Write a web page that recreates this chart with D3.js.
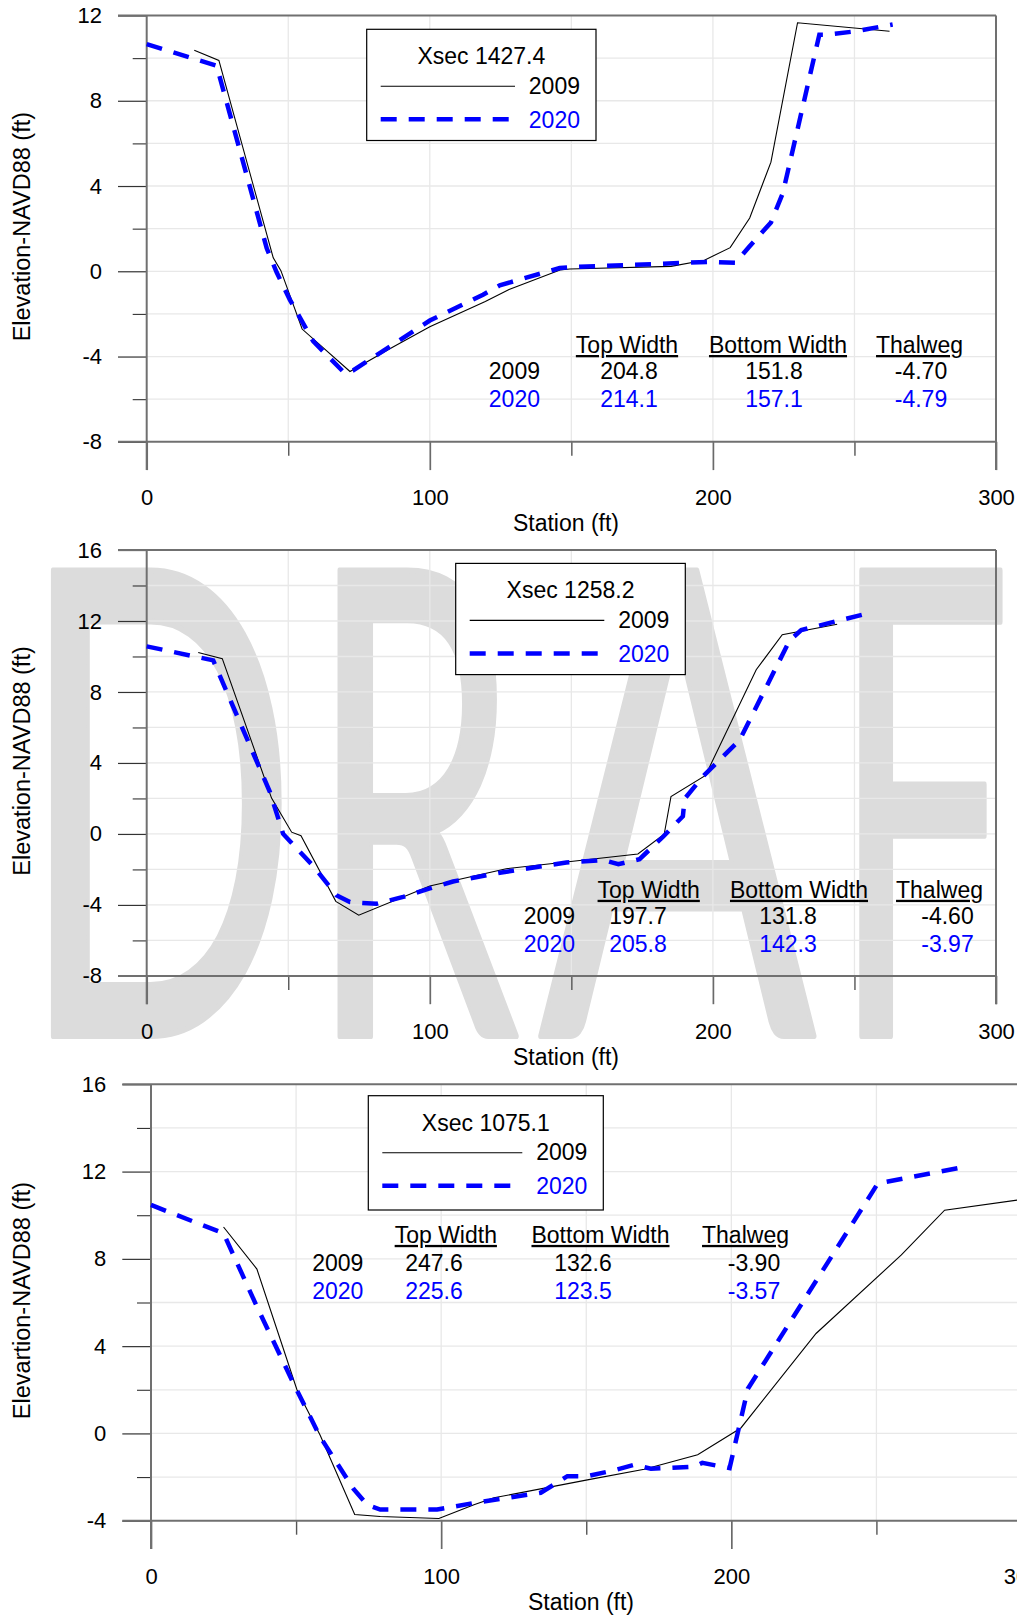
<!DOCTYPE html>
<html>
<head>
<meta charset="utf-8">
<script src="https://cdn.jsdelivr.net/npm/d3@7"></script>
<style>
  body { margin: 0; background: #fff; }
  text { font-family: "Liberation Sans", Arial, sans-serif; }
</style>
</head>
<body>
<svg id="chart" width="1017" height="1620"></svg>
<script>
// ---- data ----
const xsecNames = ["Xsec 1427.4", "Xsec 1258.2", "Xsec 1075.1"];
const yTitles = ["Elevation-NAVD88 (ft)", "Elevation-NAVD88 (ft)", "Elevartion-NAVD88 (ft)"];
const xTitle = "Station (ft)";
const years = ["2009", "2020"];
const statHeaders = ["Top Width", "Bottom Width", "Thalweg"];

const stationDomain = [0, 300];
const stationTicks = [0, 100, 200, 300];
const stationMinor = [50, 150, 250];

const elevDomain1427 = [-8, 12];
const elevTicks1427 = [-8, -4, 0, 4, 8, 12];
const elevDomain1258 = [-8, 16];
const elevTicks1258 = [-8, -4, 0, 4, 8, 12, 16];
const elevDomain1075 = [-4, 16];
const elevTicks1075 = [-4, 0, 4, 8, 12, 16];

// Xsec 1427.4
const sta2009_1427 = [16.8, 25.5, 44.7, 47.4, 54.9, 71.8, 87, 100, 119.6, 128, 146, 149.4, 185.2, 197, 206.1, 213, 220.5, 229.9, 262.4];
const elev2009_1427 = [10.37, 9.89, 0.63, 0.03, -2.71, -4.70, -3.55, -2.6, -1.42, -0.85, 0.06, 0.11, 0.23, 0.52, 1.11, 2.5, 5.12, 11.66, 11.26];
const sta2020_1427 = [0, 24.7, 42.4, 45.9, 50.6, 58.8, 70, 72.9, 87, 100, 118.8, 124.7, 145.9, 149.4, 198.8, 208, 212.9, 220.5, 224.7, 237.6, 240, 250.6, 263.5];
const elev2020_1427 = [10.66, 9.64, 1.08, -0.05, -1.34, -3.28, -4.79, -4.65, -3.44, -2.31, -1.10, -0.66, 0.15, 0.19, 0.44, 0.40, 1.16, 2.29, 3.67, 11.1, 11.1, 11.26, 11.58];
const stats2009_1427 = ["204.8", "151.8", "-4.70"];
const stats2020_1427 = ["214.1", "157.1", "-4.79"];

// Xsec 1258.2
const sta2009_1258 = [18.2, 26.7, 44.1, 51.2, 54.5, 66.8, 74.9, 100, 127, 173.5, 182.8, 185.2, 197.4, 215.3, 224.5, 243.9];
const elev2009_1258 = [10.22, 9.88, 2.02, 0.10, -0.10, -3.80, -4.58, -2.93, -1.96, -1.13, -0.02, 2.11, 3.30, 9.25, 11.23, 11.82];
const sta2020_1258 = [0, 23.5, 43.5, 48.2, 58.8, 67, 71.8, 81.2, 90.6, 100, 108.2, 124.7, 148.2, 161.2, 166.6, 174.1, 182.4, 189.4, 190, 196.5, 209.4, 227.1, 231.2, 253];
const elev2020_1258 = [10.57, 9.78, 2.37, 0.0, -1.80, -3.45, -3.84, -3.94, -3.55, -3.07, -2.68, -2.19, -1.61, -1.47, -1.71, -1.42, -0.16, 1.0, 1.98, 3.24, 5.28, 10.9, 11.49, 12.36];
const stats2009_1258 = ["197.7", "131.8", "-4.60"];
const stats2020_1258 = ["205.8", "142.3", "-3.97"];

// Xsec 1075.1
const sta2009_1075 = [25, 36.5, 50.3, 58.3, 70.2, 79, 99.2, 111.3, 118.2, 150.4, 170, 188.4, 203.3, 229.2, 258.6, 273.5, 300];
const elev2009_1075 = [9.46, 7.53, 2.0, -0.08, -3.72, -3.81, -3.90, -3.27, -2.95, -2.13, -1.64, -0.98, 0.25, 4.58, 8.18, 10.23, 10.72];
const sta2020_1075 = [0, 25, 36.5, 49.1, 58.3, 69.8, 74.5, 79, 98.6, 111.3, 120.5, 134.3, 143.5, 150.4, 159.6, 166.5, 172.3, 187.2, 190, 199.4, 205.7, 250.5, 279.3];
const elev2020_1075 = [10.47, 9.17, 5.81, 2.29, -0.16, -2.54, -3.27, -3.49, -3.49, -3.19, -3.0, -2.72, -1.96, -1.96, -1.69, -1.44, -1.62, -1.52, -1.35, -1.59, 2.05, 11.46, 12.19];
const stats2009_1075 = ["247.6", "132.6", "-3.90"];
const stats2020_1075 = ["225.6", "123.5", "-3.57"];

const watermarkText = "DRAFT";

// ---- layout ----
const W = 1017, H = 1620;
const FONT = '"Liberation Sans", Arial, sans-serif';
const BLUE = "#0000ff";
const MAJ = 28.3, MIN = 14;

const panels = [
  {
    name: xsecNames[0], yTitle: yTitles[0], yDomain: elevDomain1427, yTicks: elevTicks1427,
    s09: sta2009_1427, e09: elev2009_1427, s20: sta2020_1427, e20: elev2020_1427,
    st09: stats2009_1427, st20: stats2020_1427,
    xRange: [146.7, 996], yRange: [441.8, 15.5],
    legend: { x: 366.7, y: 29.3, w: 229.3, h: 111.2 },
    table: { hy: 353, r1: 378.8, r2: 407, yr: 540, hcx: [627, 778, 919.5], vcx: [629, 774, 921] },
    xTitleX: 566, yTitleX: 29.5
  },
  {
    name: xsecNames[1], yTitle: yTitles[1], yDomain: elevDomain1258, yTicks: elevTicks1258,
    s09: sta2009_1258, e09: elev2009_1258, s20: sta2020_1258, e20: elev2020_1258,
    st09: stats2009_1258, st20: stats2020_1258,
    xRange: [146.7, 996], yRange: [975.9, 550],
    legend: { x: 455.7, y: 563.4, w: 229.6, h: 111.2 },
    table: { hy: 897.8, r1: 924.3, r2: 951.8, yr: 575, hcx: [648.7, 799, 939.5], vcx: [638, 788, 947.5] },
    xTitleX: 566, yTitleX: 29.5
  },
  {
    name: xsecNames[2], yTitle: yTitles[2], yDomain: elevDomain1075, yTicks: elevTicks1075,
    s09: sta2009_1075, e09: elev2009_1075, s20: sta2020_1075, e20: elev2020_1075,
    st09: stats2009_1075, st20: stats2020_1075,
    xRange: [151, 1021.5], yRange: [1520.7, 1084.3],
    legend: { x: 368.3, y: 1095.7, w: 235, h: 114.3 },
    table: { hy: 1242.9, r1: 1270.7, r2: 1298.6, yr: 363.3, hcx: [445.8, 600.5, 745.5], vcx: [434, 583, 754] },
    xTitleX: 581, yTitleX: 30
  }
];

const svg = d3.select("#chart");
svg.append("rect").attr("width", W).attr("height", H).attr("fill", "#fff");

// ---- watermark (behind panel 2) ----
const wmBoxes = [[46, 284], [333, 520], [537, 822], [855, 1007]];
const wmTop = 566, wmBottom = 1039, wmStroke = 6;
const wmFontFamily = 'Lato, "Open Sans", "Liberation Sans", sans-serif';
const ctx = document.createElement("canvas").getContext("2d");
ctx.font = "400px " + wmFontFamily;
const wm = svg.append("g");
wmBoxes.forEach((b, i) => {
  const ch = watermarkText[i];
  const m = ctx.measureText(ch);
  const inkW = m.actualBoundingBoxLeft + m.actualBoundingBoxRight;
  const inkH = m.actualBoundingBoxAscent;
  const k = (wmBottom - wmTop - wmStroke) / inkH;
  const sx = (b[1] - b[0]) / (inkW * k + wmStroke);
  const ax = b[0] + sx * (wmStroke / 2 + m.actualBoundingBoxLeft * k);
  wm.append("text")
    .attr("transform", `translate(${ax},${wmBottom - wmStroke / 2}) scale(${sx},1)`)
    .style("font-family", wmFontFamily)
    .attr("font-size", 400 * k)
    .attr("fill", "#dcdcdc")
    .attr("stroke", "#dcdcdc")
    .attr("stroke-width", wmStroke)
    .attr("stroke-linejoin", "round")
    .text(ch);
});

// ---- panels ----
panels.forEach(p => {
  const x = d3.scaleLinear().domain(stationDomain).range(p.xRange);
  const y = d3.scaleLinear().domain(p.yDomain).range(p.yRange);
  const [x0, x1] = p.xRange;
  const yb = p.yRange[0], yt = p.yRange[1];
  const g = svg.append("g");

  // grid
  const gridY = d3.range(p.yDomain[0] + 2, p.yDomain[1], 2);
  const gridX = d3.range(50, 300, 50);
  g.append("g").selectAll("line").data(gridY).join("line")
    .attr("x1", x0).attr("x2", x1).attr("y1", d => y(d)).attr("y2", d => y(d))
    .attr("stroke", "#e8e8e8").attr("stroke-width", 1.3);
  g.append("g").selectAll("line").data(gridX).join("line")
    .attr("x1", d => x(d)).attr("x2", d => x(d)).attr("y1", yt).attr("y2", yb)
    .attr("stroke", "#e8e8e8").attr("stroke-width", 1.3);

  // y axis ticks
  const minorY = gridY.filter(v => !p.yTicks.includes(v));
  const fmt = d => String(d);
  const yMaj = g.append("g").attr("transform", `translate(${x0},0)`)
    .call(d3.axisLeft(y).tickValues(p.yTicks).tickSize(28.7).tickPadding(16).tickFormat(fmt));
  const yMin = g.append("g").attr("transform", `translate(${x0},0)`)
    .call(d3.axisLeft(y).tickValues(minorY).tickSize(14).tickFormat(""));
  // x axis ticks
  const xMaj = g.append("g").attr("transform", `translate(0,${yb})`)
    .call(d3.axisBottom(x).tickValues(stationTicks).tickSize(MAJ).tickPadding(19.5).tickFormat(fmt));
  const xMin = g.append("g").attr("transform", `translate(0,${yb})`)
    .call(d3.axisBottom(x).tickValues(stationMinor).tickSize(MIN).tickFormat(""));

  [yMaj, yMin, xMaj, xMin].forEach(a => {
    a.select(".domain").remove();
    a.attr("font-family", null).attr("font-size", null);
    a.selectAll("text").attr("font-size", 22).attr("fill", "#000").style("font-family", FONT);
  });
  yMin.selectAll("text").remove();
  xMin.selectAll("text").remove();
  yMaj.selectAll("line").attr("stroke", "#333").attr("stroke-width", 1.2);
  yMin.selectAll("line").attr("stroke", "#333").attr("stroke-width", 1.1);
  xMaj.selectAll("line").attr("stroke", "#6a6a6a").attr("stroke-width", 1.7);
  xMin.selectAll("line").attr("stroke", "#555").attr("stroke-width", 1.4);

  // frame
  const frame = g.append("g").attr("stroke", "#707070").attr("stroke-width", 2);
  frame.append("line").attr("x1", x0 - 28.7).attr("x2", x1).attr("y1", yt).attr("y2", yt);
  frame.append("line").attr("x1", x0 - 28.7).attr("x2", x1).attr("y1", yb).attr("y2", yb);
  frame.append("line").attr("x1", x0).attr("x2", x0).attr("y1", yt).attr("y2", yb + MAJ);
  frame.append("line").attr("x1", x1).attr("x2", x1).attr("y1", yt).attr("y2", yb + MAJ);

  // series
  const line = d3.line().x(d => x(d[0])).y(d => y(d[1]));
  g.append("path").datum(d3.zip(p.s09, p.e09)).attr("d", line)
    .attr("fill", "none").attr("stroke", "#000").attr("stroke-width", 1.1);
  g.append("path").datum(d3.zip(p.s20, p.e20)).attr("d", line)
    .attr("fill", "none").attr("stroke", BLUE).attr("stroke-width", 4.5)
    .attr("stroke-dasharray", "16,12");

  // axis titles
  g.append("text").attr("x", p.xTitleX).attr("y", yb + 89).attr("text-anchor", "middle")
    .attr("font-size", 23).text(xTitle);
  g.append("text").attr("transform", `translate(${p.yTitleX},${(yt + yb) / 2 - 2}) rotate(-90)`)
    .attr("text-anchor", "middle").attr("font-size", 23.5).text(p.yTitle);

  // legend
  const L = p.legend;
  const lg = g.append("g");
  lg.append("rect").attr("x", L.x).attr("y", L.y).attr("width", L.w).attr("height", L.h)
    .attr("fill", "#fff").attr("stroke", "#000").attr("stroke-width", 1.2);
  lg.append("text").attr("x", L.x + L.w / 2).attr("y", L.y + 35).attr("text-anchor", "middle")
    .attr("font-size", 23).text(p.name);
  lg.append("line").attr("x1", L.x + 14).attr("x2", L.x + L.w - 81).attr("y1", L.y + 57).attr("y2", L.y + 57)
    .attr("stroke", "#000").attr("stroke-width", 1.1);
  lg.append("line").attr("x1", L.x + 14).attr("x2", L.x + L.w - 81).attr("y1", L.y + 90).attr("y2", L.y + 90)
    .attr("stroke", BLUE).attr("stroke-width", 4.5).attr("stroke-dasharray", "16,12");
  lg.append("text").attr("x", L.x + L.w - 16).attr("y", L.y + 64.7).attr("text-anchor", "end")
    .attr("font-size", 23).text(years[0]);
  lg.append("text").attr("x", L.x + L.w - 16).attr("y", L.y + 98.3).attr("text-anchor", "end")
    .attr("font-size", 23).attr("fill", BLUE).text(years[1]);

  // stats table
  const T = p.table;
  const tg = g.append("g").attr("font-size", 23);
  tg.selectAll("text.h").data(statHeaders).join("text").attr("class", "h")
    .attr("x", (d, i) => T.hcx[i]).attr("y", T.hy).attr("text-anchor", "middle")
    .style("text-decoration", "underline").text(d => d);
  [[p.st09, T.r1, "#000", years[0]], [p.st20, T.r2, BLUE, years[1]]].forEach(([vals, ry, col, yr]) => {
    tg.append("text").attr("x", T.yr).attr("y", ry).attr("text-anchor", "end").attr("fill", col).text(yr);
    vals.forEach((v, i) => {
      tg.append("text").attr("x", T.vcx[i]).attr("y", ry).attr("text-anchor", "middle").attr("fill", col).text(v);
    });
  });
});
</script>
</body>
</html>
